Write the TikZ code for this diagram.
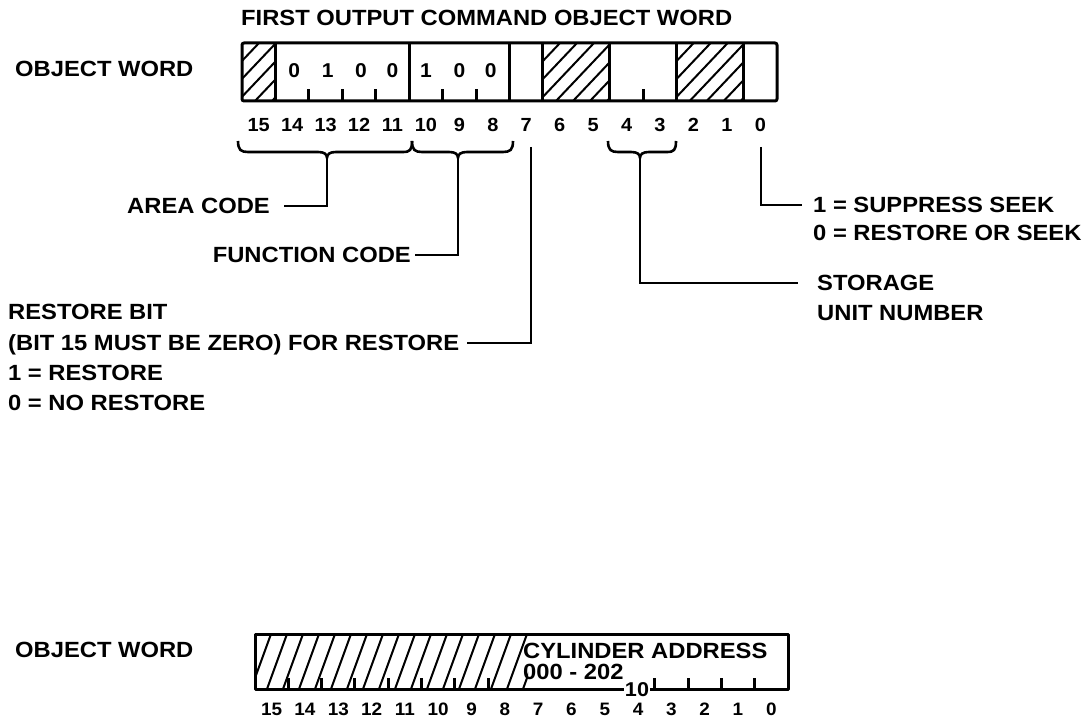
\documentclass[tikz,border=0pt]{standalone}
\usepackage{fontspec}
\setmainfont{Liberation Sans}
\newfontfamily\lblfont{Liberation Sans Bold}[FakeStretch=1.08]
\newfontfamily\numfont{Liberation Sans Bold}[FakeStretch=1.05]
\newcommand{\hatchrect}[6]{%
  \begin{scope}
  \clip (#1,#2) rectangle (#3,#4);
  \pgfmathsetmacro\hs{#1-#6}
  \pgfmathsetmacro\hn{#1-#6+#5}
  \foreach \s in {\hs,\hn,...,#3} \draw[hatch] (\s,#4) -- (\s+#6,#2);
  \end{scope}}
\begin{document}
\begin{tikzpicture}[x=1pt,y=-1pt,
  lbl/.style={font=\lblfont\fontsize{22}{24}\selectfont, inner sep=0pt, text height=15.7pt, text depth=0pt},
  bitno/.style={font=\numfont\fontsize{19}{22}\selectfont, inner sep=0pt, text height=13.6pt, text depth=0pt},
  bitnob/.style={font=\numfont\fontsize{18}{22}\selectfont, inner sep=0pt, text height=13pt, text depth=0pt},
  celld/.style={font=\numfont\fontsize{20}{22}\selectfont, inner sep=0pt, text height=14.3pt, text depth=0pt},
  frame/.style={line width=3pt, line join=round},
  hatch/.style={line width=2pt},
  lead/.style={line width=2.6pt, line join=miter},
  brace/.style={line width=2.6pt, line join=round}]
\useasboundingbox (0,0) rectangle (1092,719);

% ---------------- top word ----------------
\node[lbl, anchor=west] (title) at (241,18) {FIRST OUTPUT COMMAND OBJECT WORD};
\node[lbl, anchor=west] (ow1) at (15,69) {OBJECT WORD};

\hatchrect{242}{43}{275.4}{101}{17}{55}
\hatchrect{543}{43}{609.8}{101}{17}{55}
\hatchrect{676.7}{43}{743.6}{101}{17}{55}
\draw[frame, rounded corners=2pt] (242,43) rectangle (777,101);
\foreach \k in {1,5,8,9,11,13,15}
  \draw[frame] ({242+33.44*\k},43) -- ({242+33.44*\k},101);
\foreach \k in {2,3,4,6,7,12}
  \draw[frame] ({242+33.44*\k},101) -- ({242+33.44*\k},89);

\node[celld] (c14) at ({242+33.44*1.5+2},70) {0};
\node[celld] (c13) at ({242+33.44*2.5+2},70) {1};
\node[celld] (c12) at ({242+33.44*3.5+2},70) {0};
\node[celld] (c11) at ({242+33.44*4.5},70) {0};
\node[celld] (c10) at ({242+33.44*5.5},70) {1};
\node[celld] (c9) at ({242+33.44*6.5},70) {0};
\node[celld] (c8) at ({242+33.44*7.5-2},70) {0};

\foreach \i in {0,...,15}
  \node[bitno] (t\i) at ({242+33.44*(15.5-\i)},125) {\i};

% braces
\draw[brace] (238,141) .. controls (238,150) and (241,152) .. (248,152) -- (318,152)
  .. controls (324,152) and (327,154) .. (327,158)
  .. controls (327,154) and (330,152) .. (336,152) -- (403,152)
  .. controls (410,152) and (412,150) .. (412,141);
\draw[brace] (412,141) .. controls (412,150) and (415,152) .. (422,152) -- (449,152)
  .. controls (455,152) and (458,154) .. (458,158)
  .. controls (458,154) and (461,152) .. (467,152) -- (503,152)
  .. controls (510,152) and (513,150) .. (513,141);
\draw[brace] (608,141) .. controls (608,150) and (611,152) .. (618,152) -- (631,152)
  .. controls (637,152) and (640,154) .. (640,158)
  .. controls (640,154) and (643,152) .. (649,152) -- (667,152)
  .. controls (674,152) and (676,150) .. (676,141);
\coordinate (aTip) at (327,157);
\coordinate (fTip) at (458,157);
\coordinate (sTip) at (640,157);
\coordinate (b7) at (531,147);
\coordinate (b0) at (761,147);

% labels
\node[lbl, anchor=east] (area) at (270,206) {AREA CODE};
\node[lbl, anchor=east] (func) at (411,255) {FUNCTION CODE};
\node[lbl, anchor=west] (sup) at (813,205) {1 = SUPPRESS SEEK};
\node[lbl, anchor=west] (rsk) at (813,233) {0 = RESTORE OR SEEK};
\node[lbl, anchor=west] (stor) at (817,283) {STORAGE};
\node[lbl, anchor=west] (unit) at (817,313) {UNIT NUMBER};
\node[lbl, anchor=west] (rest1) at (8,312) {RESTORE BIT};
\node[lbl, anchor=west] (rest2) at (8,343) {(BIT 15 MUST BE ZERO) FOR RESTORE};
\node[lbl, anchor=west] (rest3) at (8,373) {1 = RESTORE};
\node[lbl, anchor=west] (rest4) at (8,403) {0 = NO RESTORE};

% leaders
\draw[lead] (aTip) |- ([xshift=14pt]area.east);
\draw[lead] (fTip) |- ([xshift=4pt]func.east);
\draw[lead] (b7) |- ([xshift=8pt]rest2.east);
\draw[lead] (sTip) |- ([xshift=-19pt]stor.west);
\draw[lead] (b0) |- ([xshift=-11pt]sup.west);

% ---------------- bottom word ----------------
\node[lbl, anchor=west] (ow2) at (15,650) {OBJECT WORD};
\hatchrect{255}{634}{528}{689}{16}{20}
\draw[frame] (255,634) rectangle (788,689);
\foreach \k in {1,...,7,12,13,14,15}
  \draw[frame] ({255+33.31*\k},689) -- ({255+33.31*\k},678);
\node[lbl, anchor=west] (cyl) at (523,651) {CYLINDER ADDRESS};
\node[lbl, anchor=west] (rng) at (523,672) {000 - 202};
\node[font=\lblfont\fontsize{20}{22}\selectfont, fill=white, inner xsep=1pt, inner ysep=0pt, text height=13pt, text depth=0pt] (ten) at (637,690) {10};
\foreach \i in {0,...,15}
  \node[bitnob, text height=12.5pt] (u\i) at ({255+33.31*(15.5-\i)},709) {\i};
\end{tikzpicture}
\end{document}
